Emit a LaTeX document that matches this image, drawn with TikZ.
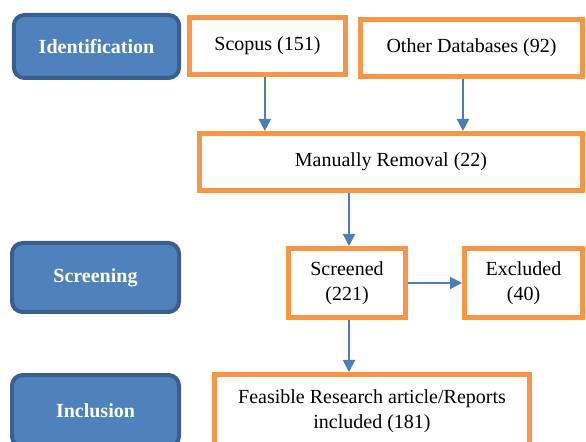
\documentclass[tikz,border=0pt]{standalone}
\usepackage{fontspec}
\setmainfont{Liberation Serif}
\usepackage{xcolor}
\usepackage{tikz}
\usetikzlibrary{arrows.meta,positioning}
\definecolor{prismaorange}{HTML}{F79646}
\definecolor{stageblue}{HTML}{4F81BD}
\definecolor{stagedark}{HTML}{3A5F8E}
\definecolor{arrowblue}{HTML}{4A7EBB}
\tikzset{
  stagebox/.style={
    draw=stagedark,
    fill=stageblue,
    rounded corners=8pt,
    line width=3pt,
    align=center,
    text=white,
    minimum width=124pt,
    inner sep=4pt,
    font=\fontsize{15}{18}\selectfont\bfseries
  },
  recordbox/.style={
    draw=prismaorange,
    fill=white,
    line width=3.75pt,
    align=center,
    inner sep=4pt,
    font=\fontsize{15}{18.75}\selectfont
  },
  flowarrow/.style={
    -{Triangle[length=9pt,width=9pt]},
    line width=1.5pt,
    draw=arrowblue
  }
}

\begin{document}
\begin{tikzpicture}[x=0.75pt,y=-0.75pt]
  \useasboundingbox (0,0) rectangle (586,442);
  \clip (0,0) rectangle (586,442);

  % stages
  \node[stagebox, minimum height=47.25pt] (ident) at (96.5,46.5) {Identification};
  \node[stagebox, minimum width=125.25pt, minimum height=51.75pt] (screen) at (95.5,277.5) {Screening};
  \node[stagebox, minimum width=125.25pt, minimum height=54pt] (incl) at (95.5,411) {Inclusion};

  % records
  \node[recordbox, minimum width=117pt, minimum height=42.75pt] (scopus) at (267.5,46) {Scopus (151)};
  \node[recordbox, minimum width=166.5pt, minimum height=42.75pt] (otherdb) at (471.5,48) {Other Databases (92)};
  \node[recordbox, minimum width=287.25pt, minimum height=42.75pt] (manual) at (391,162) {Manually Removal (22)};
  \node[recordbox, minimum width=87.75pt, minimum height=51.75pt] (screened) at (347,283) {Screened\\(221)};
  \node[recordbox, minimum width=88.5pt, minimum height=51.75pt] (excluded) at (523.5,283) {Excluded\\(40)};
  \node[recordbox, minimum width=236.25pt, minimum height=54.4pt] (feasible) at (372,410.75) {Feasible Research article/Reports\\included (181)};

  % arrows
  \draw[flowarrow] ([xshift=-2pt]scopus.south) -- ([xshift=-2pt]scopus.south |- manual.north);
  \draw[flowarrow] ([xshift=-6.4pt]otherdb.south) -- ([xshift=-6.4pt]otherdb.south |- manual.north);
  \draw[flowarrow] ([xshift=1.5pt]screened.north |- manual.south) -- ([xshift=1.5pt]screened.north);
  \draw[flowarrow] (screened.east) -- (excluded.west);
  \draw[flowarrow] ([xshift=1.5pt]screened.south) -- ([xshift=1.5pt]screened.south |- feasible.north);
\end{tikzpicture}
\end{document}
